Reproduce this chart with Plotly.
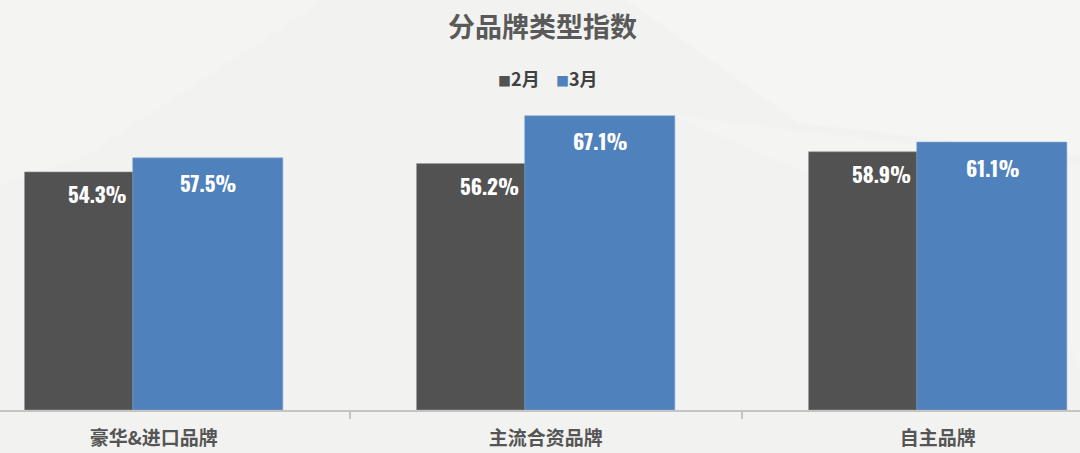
import plotly.graph_objects as go

categories = ["豪华&进口品牌", "主流合资品牌", "自主品牌"]
feb_values = [54.3, 56.2, 58.9]
mar_values = [57.5, 67.1, 61.1]
series_names = ["2月", "3月"]
title_text = "分品牌类型指数"

GRAY = "#525252"
BLUE = "#4f81bd"
NUM_FONT = "Oswald, Roboto Condensed, sans-serif"
CJK_FONT = "Noto Sans CJK SC, sans-serif"

W = 0.383
SHIFT = 0.138
FIG_W, FIG_H = 1080, 453
MB = 43
PLOT_H = FIG_H - MB

fig = go.Figure()
fig.add_trace(go.Bar(
    x=categories, y=feb_values, name=series_names[0],
    marker=dict(color=GRAY, line=dict(color="#9a9a9a", width=0.6)),
    width=W, offset=-SHIFT - W / 2, hoverinfo="skip",
))
fig.add_trace(go.Bar(
    x=categories, y=mar_values, name=series_names[1],
    marker=dict(color=BLUE, line=dict(color="#8aaad3", width=0.6)),
    width=W, offset=SHIFT - W / 2, hoverinfo="skip",
))

annotations = []
for c, v in zip(categories, feb_values):
    annotations.append(dict(
        x=c, y=v, xref="x", yref="y", text=f"{v:.1f}%", showarrow=False,
        xshift=-56, yshift=-22, yanchor="middle", xanchor="center",
        font=dict(family=NUM_FONT, size=21, color="white", weight="bold"),
    ))
for c, v in zip(categories, mar_values):
    annotations.append(dict(
        x=c, y=v, xref="x", yref="y", text=f"{v:.1f}%", showarrow=False,
        xshift=55, yshift=-25, yanchor="middle", xanchor="center",
        font=dict(family=NUM_FONT, size=21, color="white", weight="bold"),
    ))

# title
annotations.append(dict(
    x=542 / FIG_W, y=(PLOT_H - 26) / PLOT_H, xref="paper", yref="paper",
    text=title_text, showarrow=False,
    font=dict(family=CJK_FONT, size=27, color="#595959", weight="bold"),
    xanchor="center", yanchor="middle",
))
# legend
annotations.append(dict(
    x=548 / FIG_W, y=(PLOT_H - 78) / PLOT_H, xref="paper", yref="paper", showarrow=False,
    text=(f"<span style='color:{GRAY};font-size:13px'>■</span>{series_names[0]}"
          f"&nbsp;&nbsp;&nbsp;&nbsp;<span style='color:{BLUE};font-size:13px'>■</span>{series_names[1]}"),
    font=dict(family=CJK_FONT, size=18, color="#404040", weight="bold"),
    xanchor="center", yanchor="middle",
))

fig.update_layout(
    width=FIG_W, height=FIG_H,
    margin=dict(l=0, r=0, t=0, b=MB),
    paper_bgcolor="#f2f2f1", plot_bgcolor="rgba(0,0,0,0)",
    barmode="overlay", showlegend=False,
    annotations=annotations,
    xaxis=dict(
        type="category", range=[-0.392, 2.363],
        showline=True, linecolor="#c4c4c4", linewidth=2,
        ticks="outside", tickson="boundaries", ticklen=7, tickcolor="#c4c4c4", tickwidth=2,
        ticklabelstandoff=10,
        tickfont=dict(family=CJK_FONT, size=19, color="#555555", weight="bold"),
        showgrid=False, zeroline=False, fixedrange=True,
    ),
    yaxis=dict(range=[0, 93.5], visible=False, fixedrange=True),
)

# very subtle background facets
bg_shapes = [
    dict(type="path", path="M 0 0.55 L 0.08 0.62 L 0.3 1 L 0 1 Z", fillcolor="rgba(255,255,255,0.2)"),
    dict(type="path", path="M 0.58 1 L 1 1 L 1 0.62 L 0.74 0.7 Z", fillcolor="rgba(255,255,255,0.25)"),
    dict(type="path", path="M 0.62 0.72 L 0.95 0.35 L 1 0.1 L 1 0.6 Z", fillcolor="rgba(255,255,255,0.15)"),
]
for s in bg_shapes:
    fig.add_shape(xref="paper", yref="paper", layer="below", line=dict(width=0), **s)

fig.write_html("out.html", config={"displayModeBar": False},
               post_script="document.body.style.margin='0';")
